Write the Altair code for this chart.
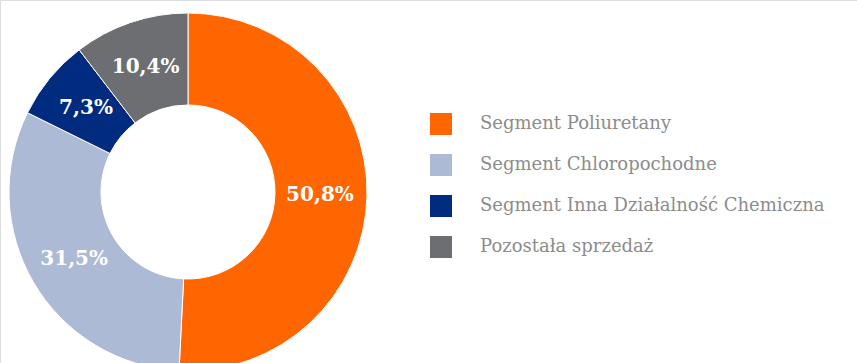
import altair as alt
import pandas as pd

categories = ["Segment Poliuretany", "Segment Chloropochodne",
              "Segment Inna Działalność Chemiczna", "Pozostała sprzedaż"]
values = [50.8, 31.5, 7.3, 10.4]
labels = ["50,8%", "31,5%", "7,3%", "10,4%"]
colors = ["#FF6600", "#ADBAD6", "#002B7F", "#6D6E71"]

df = pd.DataFrame({"cat": categories, "value": values, "label": labels,
                   "idx": list(range(len(categories)))})

FONT = "DejaVu Serif"

base = alt.Chart(df).encode(
    theta=alt.Theta("value:Q", stack=True),
    order=alt.Order("idx:Q"),
    x=alt.value(188),
    y=alt.value(192),
)

arcs = base.mark_arc(outerRadius=179, innerRadius=87, stroke="white", strokeWidth=1).encode(
    color=alt.Color("cat:N",
                    scale=alt.Scale(domain=categories, range=colors),
                    sort=categories,
                    legend=alt.Legend(
                        title=None, orient="none", legendX=430, legendY=113,
                        symbolType="square", symbolSize=484, symbolStrokeWidth=0,
                        symbolOpacity=1,
                        labelFont=FONT, labelFontSize=18, labelColor="#8C8C8C",
                        labelOffset=28, rowPadding=19, labelLimit=500)),
)

text = base.mark_text(radius=132, font=FONT, fontSize=20, fontWeight="bold",
                      color="white").encode(text="label:N")

chart = (arcs + text).properties(
    width=857, height=363, padding=0,
    autosize=alt.AutoSizeParams(type="none"),
).configure_view(stroke=None).configure(background="white")

chart.save("out.html", embed_options={"renderer": "svg", "actions": False})
